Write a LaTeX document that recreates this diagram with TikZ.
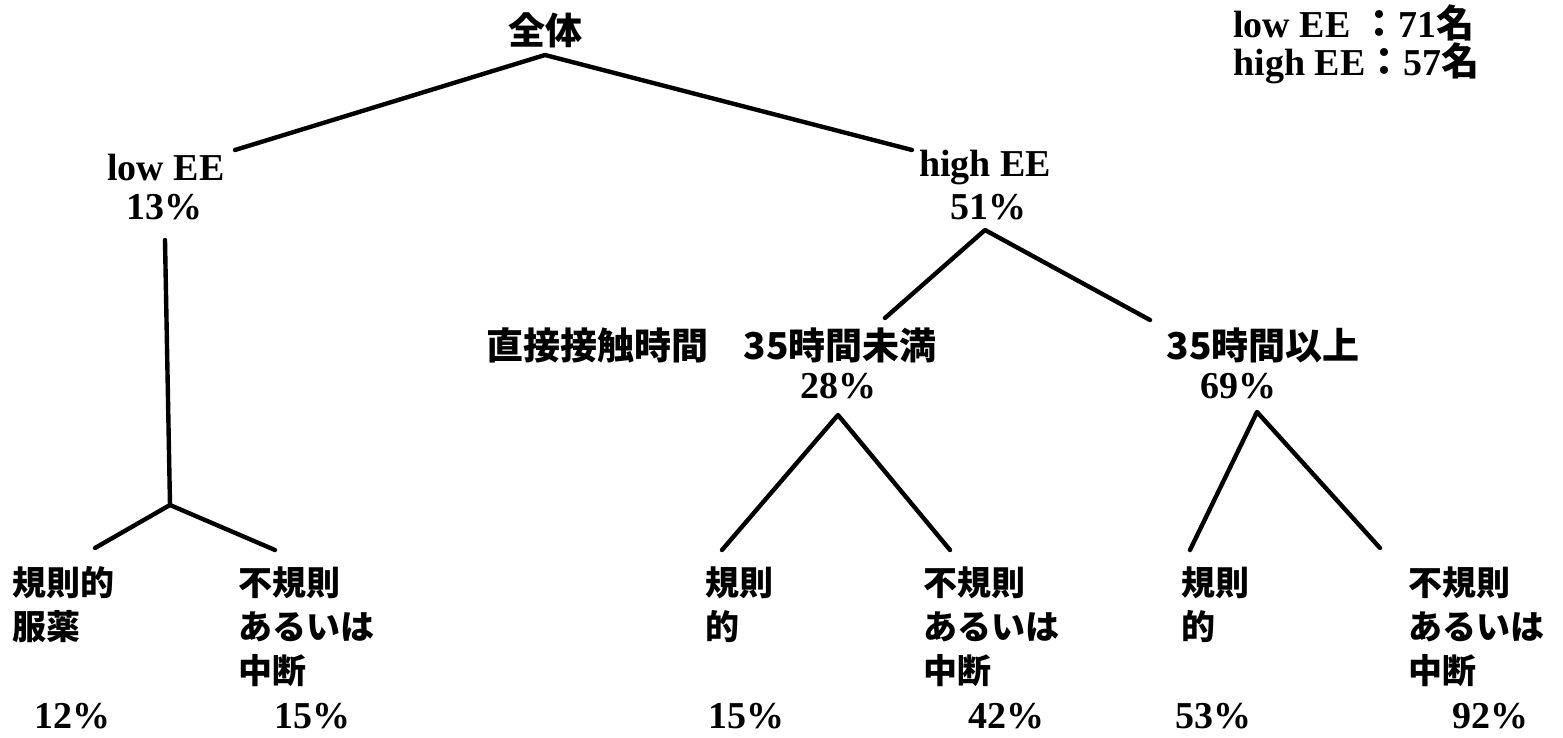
\documentclass[tikz,border=0pt]{standalone}
\usepackage{fontspec}
\setmainfont{Liberation Serif}
\newfontfamily\jp{Noto Sans CJK JP}
\begin{document}
\begin{tikzpicture}[x=0.5pt,y=-0.5pt]
\tikzset{
  lat/.style={inner sep=0pt, font=\bfseries\fontsize{19}{21}\selectfont},
  jpn/.style={inner sep=0pt, font=\jp\bfseries\fontsize{18.5}{22}\selectfont},
  leaf/.style={inner sep=0pt, font=\jp\bfseries\fontsize{17}{22}\selectfont, align=left, anchor=north west},
  edge/.style={line width=2.2pt, line cap=round, line join=round},
}
\useasboundingbox (0,0) rectangle (1563,738);
% legend
\node[inner sep=0pt, align=left, anchor=north west, font=\bfseries\fontsize{19}{17.5}\selectfont] (legend) at (1233,4)
  {low EE {\jp\bfseries ：}71{\jp\bfseries 名}\\high EE{\jp\bfseries ：}57{\jp\bfseries 名}};
% level nodes
\node[jpn] (all) at (545,30) {全体};
\node[lat] (low) at (166,168) {low EE};
\node[lat] (lowp) at (164,207) {13\%};
\node[lat] (high) at (985,168) {high EE};
\node[lat] (highp) at (988,207) {51\%};
\node[jpn] (time) at (597,345) {直接接触時間};
\node[jpn] (lt) at (840,345) {35時間未満};
\node[lat] (ltp) at (838,386) {28\%};
\node[jpn] (ge) at (1263,345) {35時間以上};
\node[lat] (gep) at (1238,386) {69\%};
% leaves
\node[leaf] (l1) at (12,566) {規則的\\服薬};
\node[leaf] (l2) at (238,566) {不規則\\あるいは\\中断};
\node[leaf] (l3) at (705,566) {規則\\的};
\node[leaf] (l4) at (923,566) {不規則\\あるいは\\中断};
\node[leaf] (l5) at (1181,566) {規則\\的};
\node[leaf] (l6) at (1408,566) {不規則\\あるいは\\中断};
\node[lat] (p1) at (72,716) {12\%};
\node[lat] (p2) at (312,716) {15\%};
\node[lat] (p3) at (746,716) {15\%};
\node[lat] (p4) at (1006,716) {42\%};
\node[lat] (p5) at (1213,716) {53\%};
\node[lat] (p6) at (1490,716) {92\%};
% connector points
\coordinate (allB) at (545,55);
\coordinate (lowT) at (235,150);
\coordinate (highT) at (912,150);
\coordinate (lowB) at (165,240);
\coordinate (fork) at (170,505);
\coordinate (l1T) at (95,548);
\coordinate (l2T) at (275,550);
\coordinate (highB) at (985,230);
\coordinate (ltT) at (885,318);
\coordinate (geT) at (1150,320);
\coordinate (ltB) at (838,415);
\coordinate (l3T) at (722,550);
\coordinate (l4T) at (950,550);
\coordinate (geB) at (1257,412);
\coordinate (l5T) at (1190,550);
\coordinate (l6T) at (1380,548);
% connectors
\draw[edge] (lowT) -- (allB) -- (highT);
\draw[edge] (lowB) -- (fork);
\draw[edge] (l1T) -- (fork) -- (l2T);
\draw[edge] (ltT) -- (highB) -- (geT);
\draw[edge] (l3T) -- (ltB) -- (l4T);
\draw[edge] (l5T) -- (geB) -- (l6T);
\end{tikzpicture}
\end{document}
